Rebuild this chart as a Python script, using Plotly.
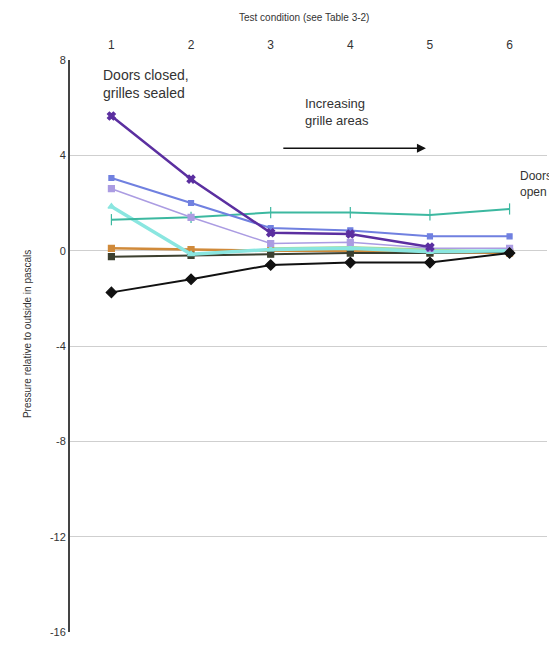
import plotly.graph_objects as go

conditions = [1, 2, 3, 4, 5, 6]
purple = [5.65, 3.0, 0.75, 0.7, 0.15, None]
blue = [3.05, 2.0, 0.95, 0.85, 0.6, 0.6]
lavender = [2.6, 1.4, 0.3, 0.35, 0.1, 0.1]
teal = [1.3, 1.4, 1.6, 1.6, 1.5, 1.75]
cyan = [1.85, -0.15, 0.05, 0.1, -0.05, 0.0]
orange = [0.1, 0.05, 0.0, 0.0, -0.05, -0.1]
dark = [-0.25, -0.2, -0.15, -0.1, -0.1, -0.05]
black = [-1.75, -1.2, -0.6, -0.5, -0.5, -0.1]
green = [None, None, 0.1, 0.15, 0.05, -0.05]
y_ticks = [8, 4, 0, -4, -8, -12, -16]
y_tick_text = ["8", "4", "0", "-4", "-8", "-12", "-16"]

series = [
    (green, "#a8dc98", 2, "circle", 3),
    (orange, "#d08a3a", 2.5, "square", 6),
    (dark, "#3c4030", 2, "square", 6),
    (cyan, "#8ae6e0", 3.5, "triangle-up", 6),
    (teal, "#3cb8a0", 2, "line-ns", 8),
    (lavender, "#ab9ce2", 1.5, "square", 6),
    (blue, "#7080e0", 2, "square", 5),
    (black, "#111111", 2, "diamond", 8),
    (purple, "#5b2fa0", 2.5, "x", 7),
]

fig = go.Figure()
for vals, col, w, sym, sz in series:
    fig.add_trace(go.Scatter(
        x=conditions, y=vals, mode="lines+markers",
        line=dict(color=col, width=w),
        marker=dict(symbol=sym, size=sz, color=col,
                    line=dict(color=col, width=1.2)),
        connectgaps=False, showlegend=False,
    ))

fig.update_layout(
    width=549, height=639,
    margin=dict(l=62, r=10, t=52, b=9),
    paper_bgcolor="white", plot_bgcolor="white",
    font=dict(family="Liberation Sans, Arial, sans-serif", color="#333333"),
    xaxis=dict(side="top", range=[0.48, 6.47], tickvals=conditions,
               showgrid=False, zeroline=False, showline=False,
               ticks="outside", ticklen=5, tickcolor="rgba(0,0,0,0)",
               tickfont=dict(size=12)),
    yaxis=dict(range=[-16, 8], tickvals=y_ticks, ticktext=y_tick_text,
               showgrid=True, gridcolor="#cfcfcf", gridwidth=1,
               zeroline=False, showline=True, linecolor="#444444",
               linewidth=2, ticks="", tickfont=dict(size=11)),
    annotations=[
        dict(text="Test condition (see Table 3-2)", xref="paper", yref="paper",
             x=0.49, y=1.0, yshift=43, showarrow=False, font=dict(size=10),
             xanchor="center", yanchor="middle"),
        dict(text="Pressure relative to outside in pascals", xref="paper",
             yref="y", x=0, y=-3.5, xshift=-43, textangle=-90,
             showarrow=False, font=dict(size=10),
             xanchor="center", yanchor="middle"),
        dict(text="Doors closed,<br>grilles sealed", x=0.87, y=7.0,
             xanchor="left", yanchor="middle", align="left",
             showarrow=False, font=dict(size=14)),
        dict(text="Increasing<br>grille areas", x=3.41, y=5.8,
             xanchor="left", yanchor="middle", align="left",
             showarrow=False, font=dict(size=13)),
        dict(text="Doors<br>open", x=6.1, y=2.8,
             xanchor="left", yanchor="middle", align="left",
             showarrow=False, font=dict(size=12)),
        dict(x=4.95, y=4.3, ax=3.14, ay=4.3, xref="x", yref="y",
             axref="x", ayref="y", text="", showarrow=True,
             arrowhead=2, arrowsize=1.2, arrowwidth=1.5, arrowcolor="#111111"),
    ],
)

fig.write_html("out.html")
